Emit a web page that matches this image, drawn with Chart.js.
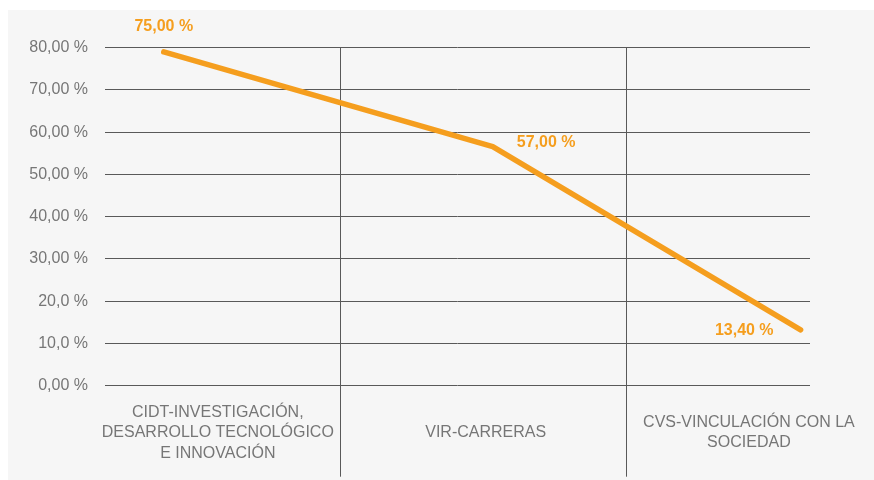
<!DOCTYPE html>
<html>
<head>
<meta charset="utf-8">
<script src="https://cdn.jsdelivr.net/npm/chart.js@4/dist/chart.umd.min.js"></script>
<style>
  html, body { margin: 0; padding: 0; background: #ffffff; }
  #wrap { position: absolute; left: 8px; top: 10px; width: 866px; height: 470px; background: #f6f6f6; }
</style>
</head>
<body>
<div id="wrap"><canvas id="chart"></canvas></div>
<script>
// category labels (split in lines as in the picture) and where they sit on the x axis
const categories = [
  ["CIDT-INVESTIGACIÓN,", "DESARROLLO TECNOLÓGICO", "E INNOVACIÓN"],
  ["VIR-CARRERAS"],
  ["CVS-VINCULACIÓN CON LA", "SOCIEDAD"]
];
const categoryCenters = [0.48, 1.62, 2.74];
const categoryBounds = [1.0, 2.22];

// the line
const pointX = [0.25, 1.65, 2.96];
const pointY = [79.0, 56.6, 13.2];
const pointLabels = ["75,00 %", "57,00 %", "13,40 %"];

const yTickValues = [0, 10, 20, 30, 40, 50, 60, 70, 80];
const yTickLabels = ["0,00 %", "10,0 %", "20,0 %", "30,00 %", "40,00 %", "50,00 %", "60,00 %", "70,00 %", "80,00 %"];

const palette = {
  line: "#f59e1e",
  grid: "#595959",
  text: "#767676"
};

const pointLabelPlugin = {
  id: "pointLabels",
  afterDatasetsDraw(chart) {
    const ctx = chart.ctx;
    const meta = chart.getDatasetMeta(0);
    ctx.save();
    ctx.font = "bold 16px 'Liberation Sans', Arial, sans-serif";
    ctx.fillStyle = palette.line;
    ctx.textBaseline = "middle";
    meta.data.forEach((pt, i) => {
      if (i === 0) {
        ctx.textAlign = "center";
        ctx.fillText(pointLabels[i], pt.x, pt.y - 25);
      } else if (i === 1) {
        ctx.textAlign = "left";
        ctx.fillText(pointLabels[i], pt.x + 24, pt.y - 4);
      } else {
        ctx.textAlign = "right";
        ctx.fillText(pointLabels[i], pt.x - 27, pt.y + 1);
      }
    });
    ctx.restore();
  }
};

const categoryLabelPlugin = {
  id: "categoryLabels",
  afterDraw(chart) {
    const ctx = chart.ctx;
    const xScale = chart.scales.x;
    const lineHeight = 20.5;
    const centerY = chart.chartArea.bottom + 47;
    ctx.save();
    ctx.font = "16px 'Liberation Sans', Arial, sans-serif";
    ctx.fillStyle = palette.text;
    ctx.textAlign = "center";
    ctx.textBaseline = "middle";
    categories.forEach((lines, i) => {
      const x = xScale.getPixelForValue(categoryCenters[i]);
      const startY = centerY - (lines.length - 1) * lineHeight / 2;
      lines.forEach((line, j) => ctx.fillText(line, x, startY + j * lineHeight));
    });
    ctx.restore();
  }
};

new Chart(document.querySelector("#chart"), {
  type: "line",
  data: {
    datasets: [
      {
        data: pointX.map((x, i) => ({ x, y: pointY[i] })),
        borderColor: palette.line,
        borderWidth: 5.5,
        borderCapStyle: "round",
        borderJoinStyle: "round",
        pointRadius: 0,
        tension: 0,
        fill: false
      }
    ]
  },
  options: {
    responsive: true,
    maintainAspectRatio: false,
    animation: false,
    layout: { padding: { top: 37.7, right: 64, left: 0, bottom: 0 } },
    plugins: {
      legend: { display: false },
      tooltip: { enabled: false }
    },
    scales: {
      x: {
        type: "linear",
        min: 0,
        max: 3,
        afterBuildTicks: (scale) => {
          scale.ticks = categoryBounds.map((v) => ({ value: v }));
        },
        afterFit: (scale) => { scale.height = 94.3; },
        grid: { color: palette.grid, lineWidth: 1, drawTicks: true, tickLength: 91 },
        border: { display: false },
        ticks: { display: false }
      },
      y: {
        min: 0,
        max: 80,
        afterBuildTicks: (scale) => {
          scale.ticks = yTickValues.map((v) => ({ value: v }));
        },
        afterFit: (scale) => { scale.width = 97; },
        grid: { color: palette.grid, lineWidth: 1, drawTicks: false },
        border: { display: false },
        ticks: {
          padding: 17,
          color: palette.text,
          font: { family: "'Liberation Sans', Arial, sans-serif", size: 16 },
          callback: (value) => yTickLabels[yTickValues.indexOf(value)]
        }
      }
    }
  },
  plugins: [pointLabelPlugin, categoryLabelPlugin]
});
</script>
</body>
</html>
